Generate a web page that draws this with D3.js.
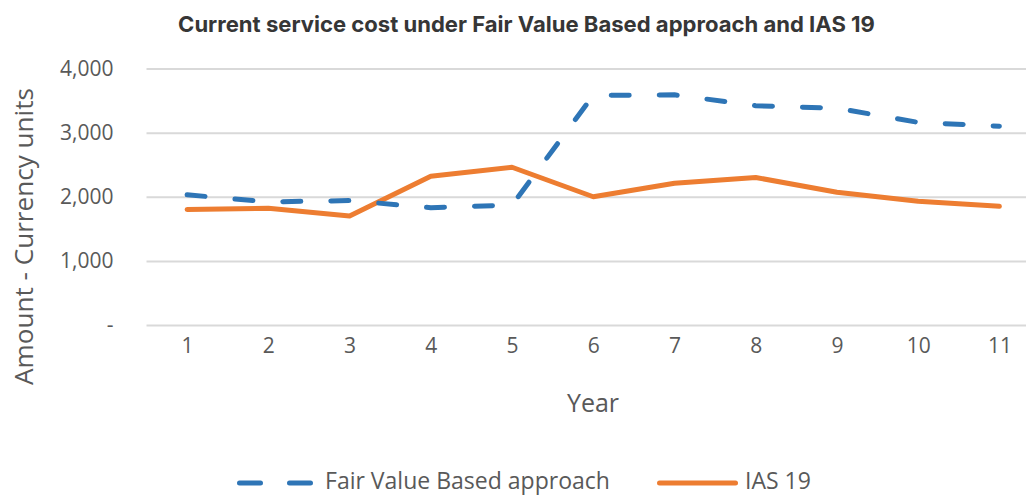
<!DOCTYPE html>
<html><head><meta charset="utf-8">
<script src="https://cdn.jsdelivr.net/npm/d3@7"></script>
<style>html,body{margin:0;padding:0;background:#fff;overflow:hidden}</style>
</head><body>
<svg id="c" width="1026" height="495"></svg>
<script>
const years = ["1","2","3","4","5","6","7","8","9","10","11"];
const fairValue = [2030, 1920, 1940, 1830, 1870, 3580, 3590, 3420, 3380, 3160, 3100];
const ias19 = [1800, 1820, 1700, 2320, 2460, 2000, 2210, 2300, 2070, 1930, 1850];
const yTicks = [0, 1000, 2000, 3000, 4000];
const seriesNames = ["Fair Value Based approach", "IAS 19"];
const titleText = "Current service cost under Fair Value Based approach and IAS 19";

(function () {
const svg = d3.select("#c");
const pLeft = 146.5, pRight = 1040, pTop = 68.5, pBottom = 325;
const x = d3.scalePoint().domain(years).range([pLeft, pRight]).padding(0.5);
const y = d3.scaleLinear().domain([0, 4000]).range([pBottom, pTop]);
const FONT = "'Open Sans', sans-serif";

function fit(sel, target) {
  const s = +sel.attr("font-size");
  const L = sel.node().getComputedTextLength();
  sel.attr("font-size", (s * target / L).toFixed(2));
}

const title = svg.append("text").attr("x", 526.5).attr("y", 31.5).attr("text-anchor", "middle")
  .attr("font-family", "Inter, sans-serif").attr("font-weight", "bold").attr("font-size", 20)
  .attr("fill", "#363636").text(titleText);
fit(title, 697);

const yAxis = d3.axisLeft(y).tickValues(yTicks).tickSize(-(pRight - pLeft))
  .tickFormat(d => d === 0 ? "-" : d3.format(",")(d)).tickPadding(33);
const gy = svg.append("g").attr("transform", `translate(${pLeft},0)`).call(yAxis);
gy.select(".domain").remove();
gy.selectAll(".tick line").attr("stroke", "#d9d9d9").attr("stroke-width", 2);
gy.selectAll(".tick text").attr("font-family", FONT).attr("font-size", 21).attr("fill", "#595959");

const xAxis = d3.axisBottom(x).tickSize(0).tickPadding(28);
const gx = svg.append("g").attr("transform", `translate(0,${pBottom})`).call(xAxis);
gx.select(".domain").remove();
gx.selectAll(".tick text").attr("font-family", FONT).attr("font-size", 21).attr("fill", "#595959")
  .attr("dy", 0);

const yTitle = svg.append("text").attr("transform", "translate(33,236.5) rotate(-90)").attr("text-anchor", "middle")
  .attr("font-family", FONT).attr("font-size", 25).attr("fill", "#595959")
  .text("Amount - Currency units");
fit(yTitle, 297);
svg.append("text").attr("x", 593).attr("y", 412).attr("text-anchor", "middle")
  .attr("font-family", FONT).attr("font-size", 25).attr("fill", "#595959")
  .text("Year");

const line = d3.line().x((d, i) => x(years[i])).y(d => y(d));
svg.append("path").datum(ias19).attr("d", line).attr("fill", "none")
  .attr("stroke", "#ED7D31").attr("stroke-width", 5).attr("stroke-linejoin", "round").attr("stroke-linecap", "round");
svg.append("path").datum(fairValue).attr("d", line).attr("fill", "none")
  .attr("stroke", "#2E75B6").attr("stroke-width", 5).attr("stroke-dasharray", "18,30")
  .attr("stroke-linejoin", "round").attr("stroke-linecap", "round");

const ly = 483;
const lg = svg.append("g");
lg.append("line").attr("x1", 239.5).attr("x2", 312.5).attr("y1", ly).attr("y2", ly)
  .attr("stroke", "#2E75B6").attr("stroke-width", 5).attr("stroke-dasharray", "21,29").attr("stroke-linecap", "round");
const t1 = lg.append("text").attr("x", 325).attr("y", 488.5).attr("font-family", FONT)
  .attr("font-size", 23).attr("fill", "#595959").text(seriesNames[0]);
fit(t1, 285);
lg.append("line").attr("x1", 659.5).attr("x2", 735.5).attr("y1", ly).attr("y2", ly)
  .attr("stroke", "#ED7D31").attr("stroke-width", 5).attr("stroke-linecap", "round");
lg.append("text").attr("x", 745).attr("y", 488.5).attr("font-family", FONT)
  .attr("font-size", t1.attr("font-size")).attr("fill", "#595959").text(seriesNames[1]);
})();
</script>
</body></html>
